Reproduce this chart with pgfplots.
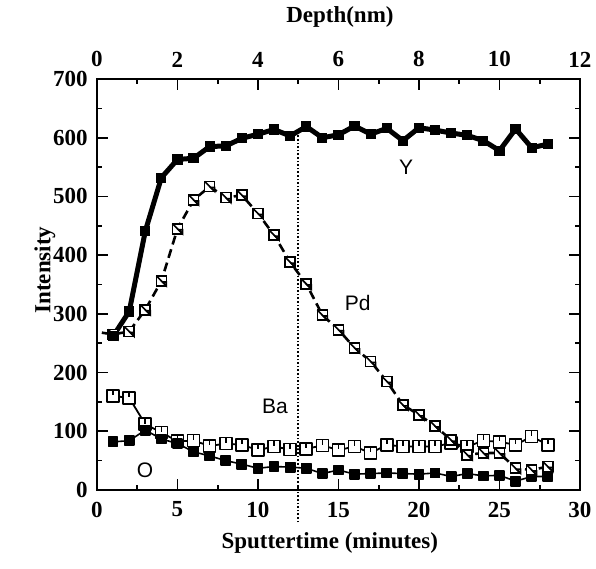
\documentclass[border=0pt]{standalone}
\usepackage{fontspec}
\setmainfont{Liberation Serif}
\newfontfamily\labfont{Liberation Sans}
\usepackage{pgfplots}
\usepackage{pgfplotstable}
\pgfplotsset{compat=1.18}

\pgfdeclareplotmark{sqslash}{%
  \pgfpathrectangle{\pgfqpoint{-\pgfplotmarksize}{-\pgfplotmarksize}}{\pgfqpoint{2\pgfplotmarksize}{2\pgfplotmarksize}}%
  \pgfusepathqfillstroke
  \pgfpathmoveto{\pgfqpoint{-\pgfplotmarksize}{\pgfplotmarksize}}%
  \pgfpathlineto{\pgfqpoint{\pgfplotmarksize}{-\pgfplotmarksize}}%
  \pgfusepathqstroke
  \pgfpathmoveto{\pgfqpoint{0.2\pgfplotmarksize}{-0.2\pgfplotmarksize}}%
  \pgfpathlineto{\pgfqpoint{\pgfplotmarksize}{-\pgfplotmarksize}}%
  \pgfpathlineto{\pgfqpoint{\pgfplotmarksize}{-0.2\pgfplotmarksize}}%
  \pgfpathclose
  \pgfusepathqstroke
}
\pgfdeclareplotmark{squ}{%
  \pgfpathrectangle{\pgfqpoint{-\pgfplotmarksize}{-\pgfplotmarksize}}{\pgfqpoint{2\pgfplotmarksize}{2\pgfplotmarksize}}%
  \pgfusepathqfillstroke
  \pgfpathmoveto{\pgfqpoint{0pt}{\pgfplotmarksize}}%
  \pgfpathlineto{\pgfqpoint{0pt}{0.1\pgfplotmarksize}}%
  \pgfusepathqstroke
}

\pgfplotstableread{
t Y
1 262
2 304
3 441
4 532
5 563
6 565
7 585
8 586
9 599
10 606
11 614
12 603
13 619
14 600
15 605
16 620
17 606
18 616
19 595
20 617
21 613
22 608
23 604
24 595
25 578
26 615
27 583
28 589
}\Ydata

\pgfplotstableread{
t Pd
0.3 268
1 265
2 270
3 307
4 356
5 445
6 494
7 517
8 498
9 502
10 471
11 434
12 388
13 351
14 298
15 273
16 242
17 219
18 185
19 145
20 128
21 109
22 85
23 60
24 63
25 63
26 37
27 34
28 40
}\Pddata

\pgfplotstableread{
t Ba
1 160
2 157
3 112
4 98
5 83
6 84
7 75
8 79
9 77
10 68
11 74
12 69
13 70
14 76
15 68
16 74
17 63
18 77
19 74
20 74
21 74
22 80
23 74
24 84
25 82
26 77
27 91
28 77
}\Badata

\pgfplotstableread{
t O
1 82
2 84
3 102
4 87
5 79
6 65
7 58
8 50
9 44
10 37
11 40
12 39
13 37
14 28
15 34
16 27
17 28
18 29
19 28
20 27
21 29
22 23
23 28
24 24
25 25
26 15
27 23
28 23
}\Odata

\begin{document}
\begin{tikzpicture}
\path[use as bounding box] (-48.5pt,-39.5pt) rectangle (249.5pt,245pt);
\begin{axis}[
  scale only axis, width=241.5pt, height=205.5pt,
  at={(0pt,0pt)}, anchor=south west,
  xmin=0, xmax=30, ymin=0, ymax=700,
  xtick={0,5,...,30}, ytick={0,100,...,700},
  minor x tick num=1, minor y tick num=1,
  tick align=inside,
  major tick length=5.5pt, minor tick length=2.5pt,
  axis line style={line width=1pt},
  every tick/.style={line width=0.8pt, black},
  ticklabel style={font=\bfseries\fontsize{11.5}{12}\selectfont},
  /pgf/number format/assume math mode=true,
  xticklabel style={yshift=-2.4pt},
  yticklabel style={xshift=-1.2pt},
  xlabel={Sputtertime (minutes)},
  ylabel={Intensity},
  label style={font=\bfseries\fontsize{11.5}{12}\selectfont},
  xlabel style={at={(axis description cs:0.482,0)}, anchor=center, yshift=-26.5pt},
  ylabel style={at={(axis description cs:0,0.535)}, anchor=center, rotate=0, yshift=26pt},
  clip=false,
]
\addplot[black, line width=0.8pt, densely dotted] coordinates {(12.5,-55) (12.5,612)};
\addplot[black, line width=0.9pt, line join=round, mark=squ, mark size=3pt, mark options={solid, fill=white, line width=0.8pt}] table[x=t,y=Ba] {\Badata};
\addplot[black, line width=0.8pt, line join=round, mark=square*, mark size=2.3pt] table[x=t,y=O] {\Odata};
\addplot[black, line width=1.3pt, line join=round, line cap=butt, dash pattern=on 4.5pt off 2.5pt, no marks] table[x=t,y=Pd] {\Pddata};
\addplot[black, only marks, mark=sqslash, mark size=2.5pt, mark indices={2,...,29}, mark options={solid, fill=white, line width=0.8pt}] table[x=t,y=Pd] {\Pddata};
\addplot[black, line width=2.5pt, line join=round, mark=square*, mark size=1.3pt, mark options={line join=miter}] table[x=t,y=Y] {\Ydata};
\node[font=\labfont\fontsize{10.5}{11}\selectfont] at (axis cs:19.2,549) {Y};
\node[font=\labfont\fontsize{10.5}{11}\selectfont] at (axis cs:16.2,319) {Pd};
\node[font=\labfont\fontsize{10.5}{11}\selectfont] at (axis cs:11.06,143) {Ba};
\node[font=\labfont\fontsize{10.5}{11}\selectfont] at (axis cs:2.98,34) {O};
\end{axis}
\begin{axis}[
  scale only axis, width=241.5pt, height=205.5pt,
  at={(0pt,0pt)}, anchor=south west,
  xmin=0, xmax=12, ymin=0, ymax=700,
  axis x line*=top, hide y axis,
  xtick={0,2,...,12}, minor x tick num=1,
  tick align=inside,
  major tick length=5.5pt, minor tick length=2.5pt,
  axis line style={line width=1pt},
  every tick/.style={line width=0.8pt, black},
  ticklabel style={font=\bfseries\fontsize{11.5}{12}\selectfont},
  /pgf/number format/assume math mode=true,
  xticklabel style={yshift=2.4pt},
  xlabel={Depth(nm)},
  label style={font=\bfseries\fontsize{11.5}{12}\selectfont},
  xlabel style={at={(axis description cs:0.503,1)}, anchor=center, yshift=31pt},
]
\end{axis}
\end{tikzpicture}
\end{document}
